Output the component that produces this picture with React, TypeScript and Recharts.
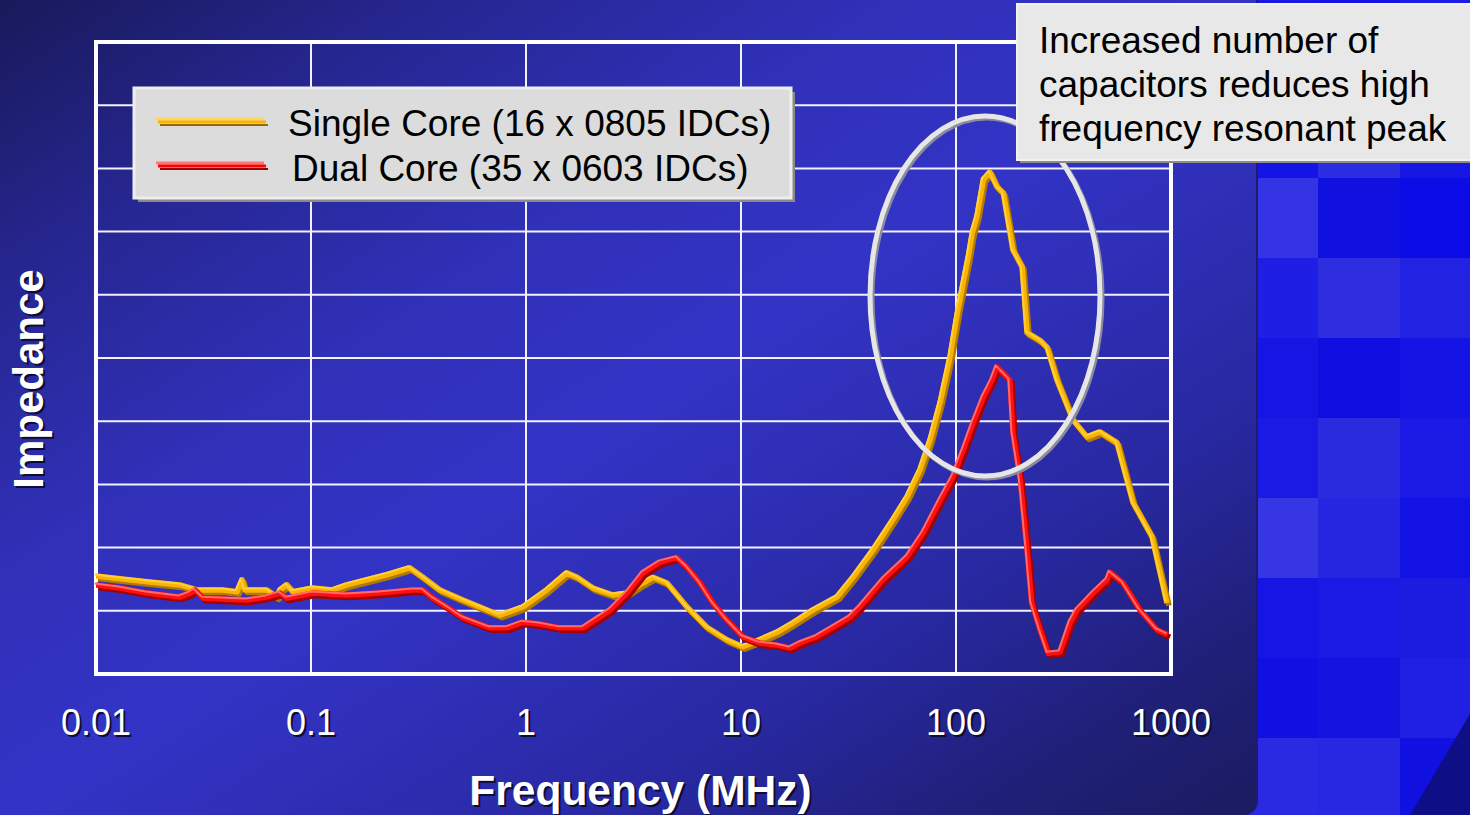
import { LineChart, Line, XAxis, YAxis, CartesianGrid, ReferenceArea, Label } from "recharts"

const FONT = '"Liberation Sans", Arial, sans-serif'

// frequency axis (MHz, log) and the unlabeled impedance grid
const freqTicks = [0.01, 0.1, 1, 10, 100, 1000]
const levelTicks = [0, 1, 2, 3, 4, 5, 6, 7, 8, 9, 10]

// Single Core (16 x 0805 IDCs)
const singleFreq = [
  0.01, 0.012, 0.0173, 0.0246, 0.0295, 0.039, 0.0453, 0.0478, 0.0493, 0.0624,
  0.0695, 0.0718, 0.0773, 0.0825, 0.102, 0.126, 0.147, 0.182, 0.225, 0.288,
  0.332, 0.398, 0.509, 0.611, 0.757, 0.968, 1.25, 1.55, 1.73, 2.05,
  2.54, 2.95, 3.5, 3.9, 4.53, 5.61, 6.95, 8.61, 10.2, 12.2,
  14.7, 17.5, 21.6, 28.0, 33.2, 41.1, 50.9, 59.2, 68.0, 75.7,
  84.3, 93.8, 102, 114, 119, 125, 134, 144, 155, 166,
  184, 203, 214, 246, 265, 295, 350, 407, 468, 561,
  666, 816, 958,
]
const singleZ = [
  1.55, 1.52, 1.46, 1.41, 1.33, 1.33, 1.3, 1.49, 1.33, 1.33,
  1.22, 1.33, 1.41, 1.3, 1.36, 1.33, 1.41, 1.49, 1.57, 1.68,
  1.53, 1.33, 1.17, 1.06, 0.93, 1.06, 1.33, 1.6, 1.53, 1.36,
  1.25, 1.28, 1.44, 1.53, 1.44, 1.06, 0.74, 0.54, 0.43, 0.54,
  0.66, 0.81, 1.01, 1.22, 1.53, 1.96, 2.44, 2.8, 3.23, 3.7,
  4.29, 5.02, 5.76, 6.6, 6.98, 7.23, 7.82, 7.94, 7.71, 7.61,
  6.71, 6.44, 5.4, 5.28, 5.17, 4.65, 4.02, 3.75, 3.83, 3.66,
  2.71, 2.17, 1.12,
]

// Dual Core (35 x 0603 IDCs)
const dualFreq = [
  0.01, 0.0129, 0.0173, 0.0246, 0.0274, 0.0289, 0.0315, 0.0504, 0.0624, 0.0718,
  0.0773, 0.102, 0.147, 0.209, 0.298, 0.332, 0.369, 0.429, 0.509, 0.681,
  0.817, 0.968, 1.16, 1.44, 1.84, 2.46, 2.95, 3.5, 4.2, 5.04,
  5.61, 6.44, 7.41, 8.61, 10.2, 12.2, 14.7, 16.9, 18.8, 22.5,
  26.8, 32.1, 35.7, 45.7, 59.2, 70.3, 84.3, 96.8, 108, 120,
  134, 147, 155, 166, 178, 184, 199, 214, 225, 246,
  268, 305, 339, 365, 434, 504, 520, 598, 718, 861,
  968,
]
const dualZ = [
  1.41, 1.36, 1.28, 1.22, 1.28, 1.33, 1.2, 1.17, 1.22, 1.28,
  1.2, 1.28, 1.25, 1.28, 1.33, 1.33, 1.2, 1.06, 0.89, 0.73,
  0.73, 0.82, 0.79, 0.73, 0.73, 1.01, 1.28, 1.6, 1.77, 1.84,
  1.69, 1.44, 1.12, 0.85, 0.59, 0.49, 0.46, 0.41, 0.49, 0.59,
  0.74, 0.9, 1.06, 1.49, 1.85, 2.23, 2.75, 3.12, 3.54, 3.97,
  4.38, 4.65, 4.86, 4.76, 4.65, 3.81, 3.07, 1.96, 1.12, 0.7,
  0.33, 0.35, 0.81, 1.01, 1.28, 1.49, 1.61, 1.44, 1.01, 0.7,
  0.62,
]

const singleData = singleFreq.map((f, i) => ({ f, z: singleZ[i] }))
const dualData = dualFreq.map((f, i) => ({ f, z: dualZ[i] }))

const legendItems = [
  { name: "Single Core (16 x 0805 IDCs)", hi: "#ffd45c", main: "#f8b400", low: "#9a6a00" },
  { name: "Dual Core (35 x 0603 IDCs)", hi: "#ff7474", main: "#ff0000", low: "#9c0000" },
]

const noteLines = [
  "Increased number of",
  "capacitors reduces high",
  "frequency resonant peak",
]

// checkered backdrop on the right edge of the slide
const tileColors = [
  ["#1818e6", "#1414e6", "#1c1ce6"],
  ["#2020e4", "#1a1ae4", "#2a2ae2"],
  ["#1414e4", "#2c2ce2", "#1616e4"],
  ["#3434e4", "#1010e0", "#0c0ce6"],
  ["#1e1ee4", "#2e2ee0", "#2222e2"],
  ["#1616e4", "#0e0ee0", "#1414e4"],
  ["#1a1ae4", "#2a2ade", "#1a1ae4"],
  ["#3636e4", "#2626e0", "#1212e4"],
  ["#1616e4", "#1a1ae4", "#1c1ce0"],
  ["#1010e2", "#1414e0", "#2020e2"],
  ["#2a2ae2", "#2828e2", "#1010e0"],
]

function FreqTick({ x, y, payload }: any) {
  const label = String(payload.value)
  return (
    <g>
      <text x={x + 2} y={y + 61} textAnchor="middle" fontSize={36} fontFamily={FONT} fill="#0c0c34">
        {label}
      </text>
      <text x={x} y={y + 59} textAnchor="middle" fontSize={36} fontFamily={FONT} fill="#ffffff">
        {label}
      </text>
    </g>
  )
}

function XTitle({ viewBox }: any) {
  const cx = viewBox.x + viewBox.width / 2 + 7
  const by = viewBox.y + 131
  return (
    <g fontFamily={FONT} fontSize={42.5} fontWeight="bold" textAnchor="middle">
      <text x={cx + 2} y={by + 2} fill="#0c0c34">Frequency (MHz)</text>
      <text x={cx} y={by} fill="#ffffff">Frequency (MHz)</text>
    </g>
  )
}

const emptyTick = () => <g />

function Overlay() {
  return (
    <svg width={1470} height={815} style={{ position: "absolute", left: 0, top: 0 }}>
      {/* vertical axis title */}
      <g fontFamily={FONT} fontSize={42} fontWeight="bold" textAnchor="middle">
        <text x={45} y={381} transform="rotate(-90 45 381)" fill="#0c0c34">Impedance</text>
        <text x={43} y={379} transform="rotate(-90 43 379)" fill="#ffffff">Impedance</text>
      </g>

      {/* highlight ring around the resonant peak */}
      <ellipse cx={987} cy={298} rx={115} ry={180} fill="none" stroke="#8a8aa0" strokeWidth={5} />
      <ellipse cx={985} cy={296} rx={115} ry={180} fill="none" stroke="#e6e6e6" strokeWidth={5} />

      {/* legend */}
      <rect x={138} y={92} width={657} height={110} fill="#8a8a8a" />
      <rect x={134} y={88} width={657} height={110} fill="#dcdcdc" stroke="#eeeeee" strokeWidth={3} />
      {legendItems.map((item, i) => {
        const ly = 119 + i * 44
        return (
          <g key={item.name}>
            <line x1={156} x2={264} y1={ly} y2={ly} stroke={item.hi} strokeWidth={3} />
            <line x1={158} x2={266} y1={ly + 3} y2={ly + 3} stroke={item.main} strokeWidth={3} />
            <line x1={160} x2={268} y1={ly + 6} y2={ly + 6} stroke={item.low} strokeWidth={2} />
            <text x={i === 0 ? 288 : 292} y={136 + i * 45} fontFamily={FONT} fontSize={37} fill="#000000">
              {item.name}
            </text>
          </g>
        )
      })}

      {/* callout */}
      <rect x={1020} y={7} width={460} height={156} fill="#8c8c8c" />
      <rect x={1017} y={4} width={460} height={156} fill="#e8e8e8" stroke="#f2f2f2" strokeWidth={2} />
      {noteLines.map((t, i) => (
        <text key={t} x={1039} y={53 + i * 44} fontFamily={FONT} fontSize={37} fill="#000000">
          {t}
        </text>
      ))}
    </svg>
  )
}

export default function App() {
  return (
    <div
      style={{
        position: "fixed",
        left: 0,
        top: 0,
        width: 1470,
        height: 815,
        overflow: "hidden",
        background: "#1818e4",
      }}
    >
      <style>{`
        .line-shadow { transform: translate(2px, 2.5px); }
        .line-hi { transform: translate(-1.5px, -1.5px); }
      `}</style>

      {tileColors.map((row, r) =>
        row.map((c, k) => (
          <div
            key={`${r}-${k}`}
            style={{
              position: "absolute",
              left: 1236 + k * 82,
              top: -62 + r * 80,
              width: 82,
              height: 80,
              background: c,
            }}
          />
        ))
      )}
      <svg width={1470} height={815} style={{ position: "absolute", left: 0, top: 0 }}>
        <polygon points="1470,714 1470,815 1410,815" fill="#0e0e86" />
      </svg>

      <div
        style={{
          position: "absolute",
          left: 0,
          top: 0,
          width: 1256,
          height: 815,
          borderBottomRightRadius: 14,
          borderRight: "2px solid #1c1c70",
          background:
            "linear-gradient(to bottom right, #19195a 0%, #262690 17%, #3030b8 35%, #3333c6 50%, #2f2fb8 60%, #2828a0 75%, #20207a 88%, #1b1b60 100%)",
        }}
      />

      <div style={{ position: "absolute", left: 0, top: 0 }}>
        <LineChart width={1470} height={815} margin={{ top: 42, right: 299, bottom: 0, left: 95 }}>
          <CartesianGrid stroke="#f2f2ff" strokeWidth={2} horizontalValues={levelTicks} verticalValues={freqTicks} />
          <XAxis
            dataKey="f"
            type="number"
            scale="log"
            domain={[0.01, 1000]}
            ticks={freqTicks}
            interval={0}
            allowDataOverflow
            axisLine={false}
            tickLine={false}
            tickSize={0}
            height={141}
            tick={<FreqTick />}
          >
            <Label content={<XTitle />} />
          </XAxis>
          <YAxis
            type="number"
            domain={[0, 10]}
            ticks={levelTicks}
            interval={0}
            tick={emptyTick}
            axisLine={false}
            tickLine={false}
            width={1}
          />
          <ReferenceArea
            x1={0.01}
            x2={1000}
            y1={0}
            y2={10}
            fill="none"
            stroke="#ffffff"
            strokeWidth={4}
            ifOverflow="visible"
          />

          <Line data={singleData} dataKey="z" className="line-shadow" stroke="#b07a00" strokeWidth={5.5} strokeLinejoin="round" dot={false} activeDot={false} isAnimationActive={false} />
          <Line data={singleData} dataKey="z" stroke="#f8b400" strokeWidth={5.5} strokeLinejoin="round" dot={false} activeDot={false} isAnimationActive={false} />
          <Line data={singleData} dataKey="z" className="line-hi" stroke="#ffcf3a" strokeWidth={2} strokeLinejoin="round" dot={false} activeDot={false} isAnimationActive={false} />

          <Line data={dualData} dataKey="z" className="line-shadow" stroke="#a40000" strokeWidth={5.5} strokeLinejoin="round" dot={false} activeDot={false} isAnimationActive={false} />
          <Line data={dualData} dataKey="z" stroke="#ff1010" strokeWidth={5.5} strokeLinejoin="round" dot={false} activeDot={false} isAnimationActive={false} />
          <Line data={dualData} dataKey="z" className="line-hi" stroke="#ff6a6a" strokeWidth={2} strokeLinejoin="round" dot={false} activeDot={false} isAnimationActive={false} />
        </LineChart>
      </div>

      <Overlay />
    </div>
  )
}
